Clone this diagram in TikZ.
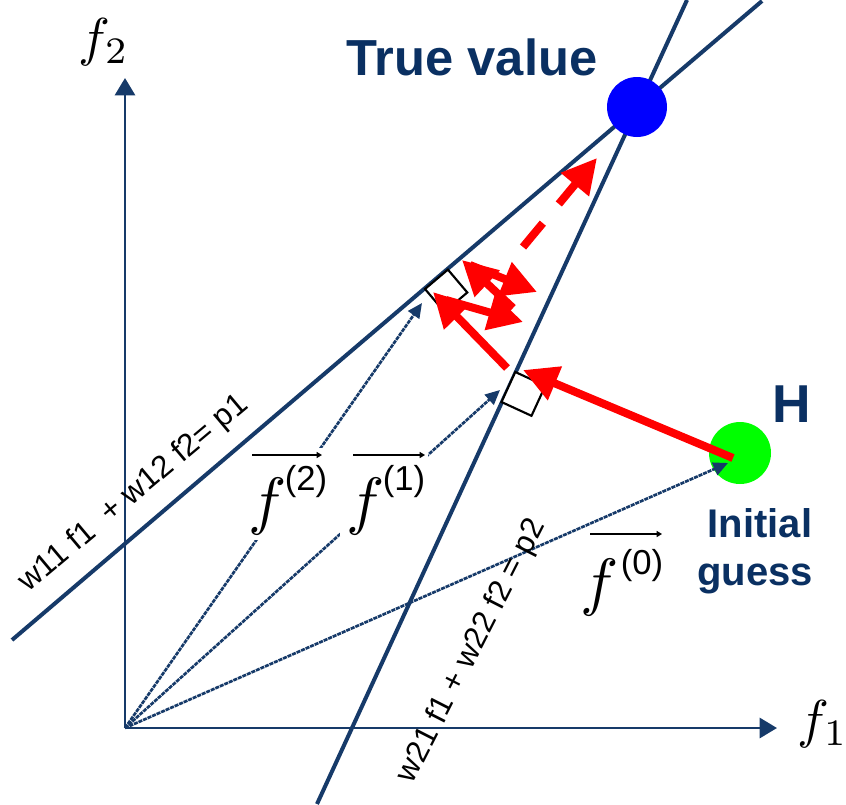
\documentclass[tikz,border=0pt]{standalone}
\usepackage{fontspec}
\newfontfamily\lsans{Liberation Sans}
\usetikzlibrary{arrows.meta}
\definecolor{navy}{RGB}{22,58,105}
\definecolor{navytext}{RGB}{10,48,98}
\begin{document}
\begin{tikzpicture}[x=0.75pt,y=-0.75pt,
  axis/.style={draw=navy, line width=2.2pt, -{Triangle[length=13pt,width=15pt]}},
  constraint/.style={draw=navy, line width=3pt},
  vec/.style={draw=navy, line width=2pt, dash pattern=on 3pt off 0.7pt, -{Triangle[length=11pt,width=10pt]}},
  redarr/.style={draw=red, line width=6pt, -{Triangle[length=26pt,width=26pt]}},
  overarr/.style={draw=black, line width=1.5pt, -{Triangle[length=4pt,width=4.5pt]}},
  occluder/.style={fill=white, draw=none},
  rightbox/.style={fill=white, draw=black, line width=1.6pt},
  dot/.style={circle, inner sep=0pt, draw=none},
  axlabel/.style={font=\normalsize, scale=4, inner sep=0pt},
  ffont/.style={font=\normalsize, scale=4.8, inner sep=0pt},
  supfont/.style={font=\lsans\fontsize{26}{26}\selectfont},
  eqfont/.style={font=\lsans\fontsize{23.5}{23.5}\selectfont},
  navylabel/.style={font=\lsans\bfseries\fontsize{30}{30}\selectfont, text=navytext}
]
\useasboundingbox (0,0) rectangle (846,804);
\fill[white] (0,0) rectangle (846,804);

% key points
\coordinate (O) at (125,728);
\coordinate (f2tip) at (125,78);
\coordinate (f1tip) at (777,728);
\coordinate (l1a) at (12,640);
\coordinate (l1b) at (762,1);
\coordinate (l2a) at (317,804);
\coordinate (l2b) at (687,0);
\coordinate (v0) at (728,463);
\coordinate (v1) at (500,390);
\coordinate (v2) at (422,303);

% green circle (initial guess)
\node[dot, fill={rgb,255:red,0;green,255;blue,0}, minimum size=46.5pt] (H0) at (740,453) {};

% vectors f(0), f(1), f(2)
\draw[vec] (O) -- (v0);
\draw[vec] (O) -- (v1);
\draw[vec] (O) -- (v2);

% white backgrounds of the vector labels
\fill[occluder] (246,448) rectangle (330,540);
\fill[occluder] (340,448) rectangle (428,536);

% axes
\draw[axis] (O) -- (f2tip);
\draw[axis] (O) -- (f1tip);
\node[axlabel] (lf2) at (104,42) {$f_2$};
\node[axlabel] (lf1) at (823,724) {$f_1$};

% constraint lines
\draw[constraint] (l1a) -- (l1b);
\draw[constraint] (l2a) -- (l2b);

% true value
\node[dot, fill={rgb,255:red,0;green,0;blue,255}, minimum size=45pt] (TV) at (637,107) {};
\node[font=\lsans\bfseries\fontsize{38}{38}\selectfont, text=navytext, anchor=base] (tvlabel) at (472,75) {True value};

% H and initial guess
\node[font=\lsans\bfseries\fontsize{40}{40}\selectfont, text=navytext, anchor=base] (Hlabel) at (792,422) {H};
\node[navylabel, anchor=base] (ini) at (760,537) {Initial};
\node[navylabel, anchor=base] (gue) at (755,585) {guess};

% equation labels
\node[eqfont, rotate=40, anchor=base] (eq1) at (139,500) {w11 f1 \ + w12 f2= p1};
\node[eqfont, rotate=63, anchor=base] (eq2) at (479,655) {w21 f1 + w22 f2 = p2};

% vector labels
\coordinate (o2a) at (252,455); \coordinate (o2b) at (322,455);
\coordinate (o1a) at (353,455); \coordinate (o1b) at (425,455);
\coordinate (o0a) at (590,534); \coordinate (o0b) at (662,534);
\draw[overarr] (o2a) -- (o2b);
\draw[overarr] (o1a) -- (o1b);
\draw[overarr] (o0a) -- (o0b);
\node[ffont] (ff2) at (268,506) {$f$};
\node[supfont] (sf2) at (306,482) {(2)};
\node[ffont] (ff1) at (366,506) {$f$};
\node[supfont] (sf1) at (404,482) {(1)};
\node[ffont] (ff0) at (600,587) {$f$};
\node[supfont] (sf0) at (642,566) {(0)};

% right-angle boxes
\draw[rightbox] (501.5,402) -- (515.3,372) -- (545.3,385.8) -- (531.5,415.8) -- cycle;
\draw[rightbox] (425,289) -- (447.9,269.6) -- (467.3,292.5) -- (444.4,311.9) -- cycle;

% red projection arrows
\coordinate (h0) at (733,458);
\coordinate (a1) at (523,370);
\coordinate (b2) at (507,368);
\coordinate (a2) at (433,292);
\coordinate (b3) at (446,300);
\coordinate (a3) at (523,322);
\coordinate (b4) at (513,308);
\coordinate (a4) at (462,260);
\coordinate (b5) at (470,265);
\coordinate (a5) at (537,292);
\coordinate (b6) at (523,247);
\coordinate (a6) at (597,158);
\draw[redarr] (h0) -- (a1);
\draw[redarr] (b2) -- (a2);
\draw[redarr] (b3) -- (a3);
\draw[redarr] (b4) -- (a4);
\draw[redarr] (b5) -- (a5);
\draw[redarr, dash pattern=on 23.25pt off 18.75pt] (b6) -- (a6);
\end{tikzpicture}
\end{document}
